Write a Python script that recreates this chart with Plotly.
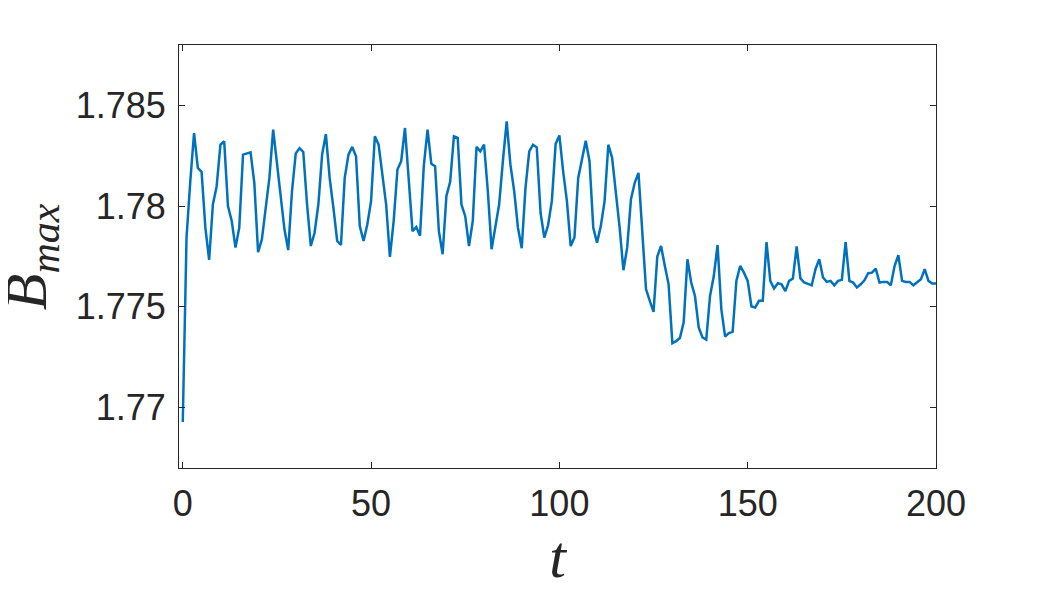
import plotly.graph_objects as go

# time samples
t = list(range(0, 201))

# B_max values (one per unit of t)
b_max = [
    1.76928, 1.77844, 1.78124, 1.78363, 1.78190, 1.78170, 1.77893, 1.77733, 1.78008, 1.78099,
    1.78305, 1.78322, 1.78000, 1.77926, 1.77794, 1.77893, 1.78256, 1.78261, 1.78267, 1.78116,
    1.77772, 1.77835, 1.77975, 1.78140, 1.78380, 1.78206, 1.78025, 1.77885, 1.77782, 1.78074,
    1.78262, 1.78288, 1.78269, 1.78008, 1.77802, 1.77868, 1.78008, 1.78256, 1.78358, 1.78140,
    1.77992, 1.77827, 1.77807, 1.78140, 1.78256, 1.78294, 1.78248, 1.77901, 1.77827, 1.77909,
    1.78025, 1.78347, 1.78305, 1.78157, 1.78008, 1.77748, 1.77926, 1.78182, 1.78223, 1.78388,
    1.78124, 1.77876, 1.77896, 1.77853, 1.78200, 1.78380, 1.78210, 1.78198, 1.77876, 1.77761,
    1.78050, 1.78121, 1.78347, 1.78339, 1.78008, 1.77950, 1.77802, 1.77926, 1.78294, 1.78272,
    1.78305, 1.78074, 1.77786, 1.77893, 1.78008, 1.78223, 1.78421, 1.78206, 1.78074, 1.77893,
    1.77791, 1.78091, 1.78272, 1.78305, 1.78292, 1.77967, 1.77844, 1.77905, 1.78025, 1.78309,
    1.78351, 1.78173, 1.78025, 1.77802, 1.77844, 1.78140, 1.78231, 1.78325, 1.78223, 1.77893,
    1.77819, 1.77901, 1.78025, 1.78305, 1.78240, 1.78074, 1.77893, 1.77682, 1.77794, 1.78033,
    1.78116, 1.78165, 1.77860, 1.77588, 1.77530, 1.77475, 1.77750, 1.77802, 1.77703, 1.77612,
    1.77320, 1.77330, 1.77345, 1.77423, 1.77736, 1.77621, 1.77554, 1.77398, 1.77348, 1.77337,
    1.77554, 1.77653, 1.77807, 1.77489, 1.77353, 1.77370, 1.77376, 1.77629, 1.77703, 1.77670,
    1.77629, 1.77502, 1.77497, 1.77530, 1.77530, 1.77822, 1.77629, 1.77591, 1.77617, 1.77612,
    1.77578, 1.77629, 1.77641, 1.77800, 1.77641, 1.77621, 1.77614, 1.77607, 1.77687, 1.77736,
    1.77646, 1.77624, 1.77629, 1.77607, 1.77629, 1.77634, 1.77822, 1.77629, 1.77621, 1.77596,
    1.77612, 1.77632, 1.77667, 1.77670, 1.77690, 1.77621, 1.77624, 1.77624, 1.77607, 1.77703,
    1.77756, 1.77629, 1.77624, 1.77624, 1.77607, 1.77624, 1.77637, 1.77687, 1.77629, 1.77616,
    1.77616,
]

x_ticks = [0, 50, 100, 150, 200]
y_ticks = [1.77, 1.775, 1.78, 1.785]
y_tick_labels = ["1.77", "1.775", "1.78", "1.785"]

axis_color = "#262626"
tick_font = dict(family="Liberation Sans, Arial, sans-serif", size=36, color=axis_color)
title_font = dict(family="Liberation Serif, Times New Roman, serif", size=60, color=axis_color)

fig = go.Figure()
fig.add_trace(go.Scatter(
    x=t, y=b_max, mode="lines",
    line=dict(color="#0072BD", width=2.5),
    showlegend=False,
))

fig.update_layout(
    width=1029, height=591,
    margin=dict(l=171, r=101, t=37, b=131),
    paper_bgcolor="white", plot_bgcolor="white",
)

fig.update_xaxes(
    range=[-1, 200], automargin=False,
    tickvals=x_ticks, ticktext=[str(v) for v in x_ticks],
    ticks="inside", ticklen=6, tickwidth=1, tickcolor=axis_color,
    showline=True, linecolor=axis_color, linewidth=1, mirror="ticks",
    showgrid=False, zeroline=False,
    tickfont=tick_font, ticklabelstandoff=4,
    title=dict(text="<i>t</i>", font=title_font, standoff=0),
)
fig.update_yaxes(
    range=[1.767, 1.788], automargin=False,
    tickvals=y_ticks, ticktext=y_tick_labels,
    ticks="inside", ticklen=6, tickwidth=1, tickcolor=axis_color,
    showline=True, linecolor=axis_color, linewidth=1, mirror="ticks",
    showgrid=False, zeroline=False,
    tickfont=tick_font, ticklabelstandoff=5,
)

# y-axis title placed as a rotated annotation to match the reference position
fig.add_annotation(
    text="<i>B</i><sub><i>max</i></sub>",
    font=title_font, textangle=-90,
    xref="paper", yref="paper", x=-0.145, y=0.5,
    xanchor="right", yanchor="middle", showarrow=False,
    borderpad=0,
)

fig.write_html("out.html")
